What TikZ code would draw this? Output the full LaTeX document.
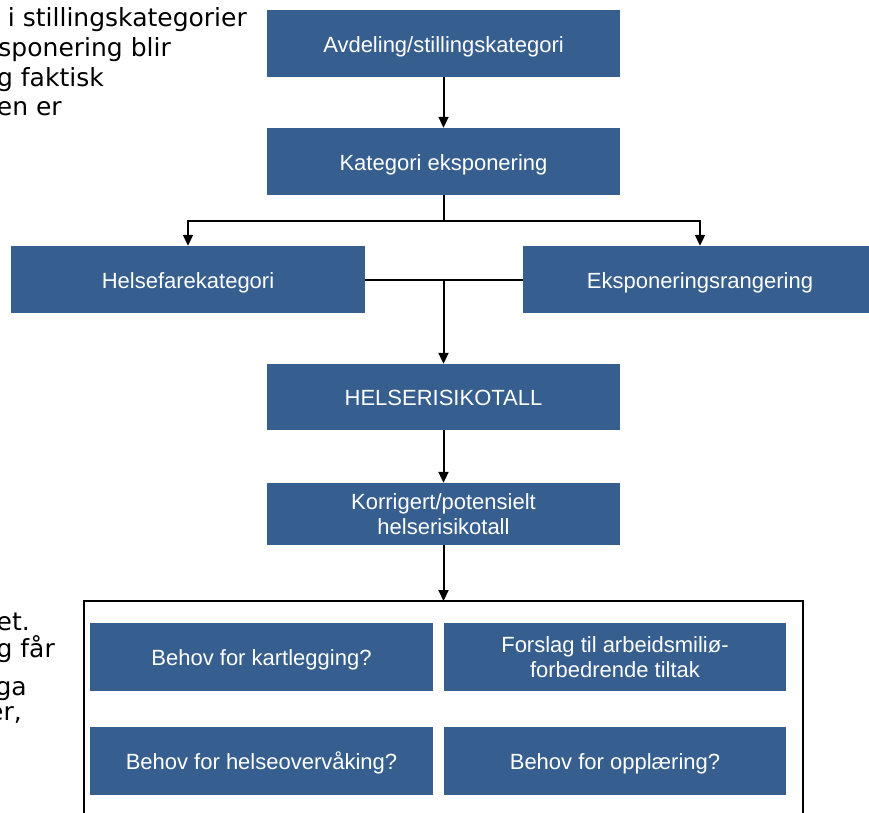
\documentclass[tikz,border=0pt]{standalone}
\usepackage{fontspec}
\setmainfont{Liberation Sans}
\newfontfamily\verd{DejaVu Sans}
\usetikzlibrary{arrows.meta}
\definecolor{boxblue}{RGB}{54,95,143}
\begin{document}
\begin{tikzpicture}[x=1pt,y=-1pt,
  bx/.style={fill=boxblue, text=white, font=\fontsize{22}{26}\selectfont, align=center, inner sep=0pt, text height=17pt, text depth=0pt},
  bxtwo/.style={fill=boxblue, text=white, font=\fontsize{22}{25}\selectfont, align=center, inner sep=0pt, text depth=0pt},
  conn/.style={line width=2pt, -{Triangle[length=11pt,width=10pt]}},
  ln/.style={line width=2pt},
  side/.style={font=\verd\fontsize{25}{29}\selectfont, inner sep=0pt, anchor=base east}]
\useasboundingbox (0,0) rectangle (869,812);
% side texts (cut off on the left)
\node[side] (s1) at (247,26) {i stillingskategorier};
\node[side] (s2) at (171,56) {sponering blir};
\node[side] (s3) at (104,86) {g faktisk};
\node[side] (s4) at (62,115) {en er};
\node[side] (t1) at (30,630) {et.};
\node[side] (t2) at (55,657) {g får};
\node[side] (t3) at (27,695) {ga};
\node[side] (t4) at (22,720) {er,};
% boxes
\node[bx, minimum width=353pt, minimum height=67pt] (a) at (443.5,43.5) {Avdeling/stillingskategori};
\node[bx, minimum width=353pt, minimum height=67pt] (b) at (443.5,161.5) {Kategori eksponering};
\node[bx, minimum width=354pt, minimum height=67pt] (hf) at (188,279.5) {Helsefarekategori};
\node[bx, minimum width=354pt, minimum height=67pt] (ek) at (700,279.5) {Eksponeringsrangering};
\node[bx, minimum width=353pt, minimum height=66pt] (hr) at (443.5,397) {HELSERISIKOTALL};
\node[bxtwo, minimum width=353pt, minimum height=62pt] (ko) at (443.5,514) {Korrigert/potensielt\\helserisikotall};
% outer frame
\coordinate (ftl) at (84,601);
\coordinate (ftr) at (803,601);
\coordinate (ftop) at (443.5,601);
\draw[ln] (84,840) -- (ftl) -- (ftr) -- (803,840);
\node[bx, minimum width=343pt, minimum height=68pt] (k1) at (261.5,657) {Behov for kartlegging?};
\node[bxtwo, minimum width=342pt, minimum height=68pt] (k2) at (615,657) {Forslag til arbeidsmiliø-\\forbedrende tiltak};
\node[bx, minimum width=343pt, minimum height=68pt] (k3) at (261.5,761) {Behov for helseovervåking?};
\node[bx, minimum width=342pt, minimum height=68pt] (k4) at (615,761) {Behov for opplæring?};
% connectors
\coordinate (j) at (443.5,221);
\coordinate (m) at (443.5,279.5);
\draw[conn] (a) -- (b);
\draw[ln] (b) -- (j);
\draw[conn] (j) -| (hf.north);
\draw[conn] (j) -| (ek.north);
\draw[ln] (hf.east) -- (ek.west);
\draw[conn] (m) -- (hr.north);
\draw[conn] (hr) -- (ko);
\draw[conn] (ko) -- (ftop);
\end{tikzpicture}
\end{document}
